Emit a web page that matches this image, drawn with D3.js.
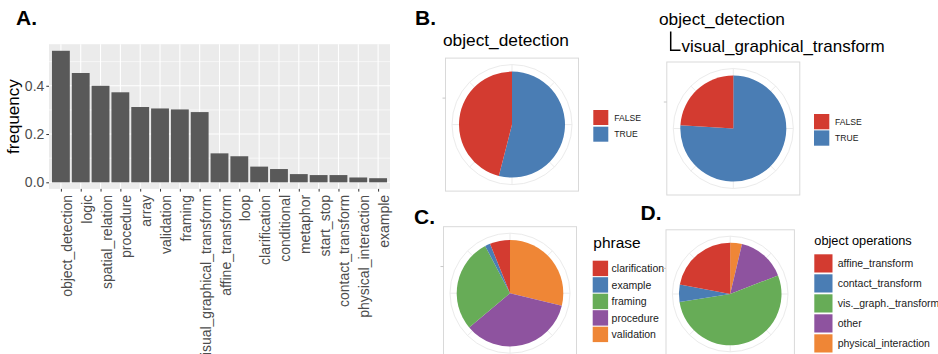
<!DOCTYPE html>
<meta charset="utf-8">
<style>
  body { margin: 0; background: #fff; }
  svg { display: block; font-family: "Liberation Sans", Arial, sans-serif; }
  .letter { font-size: 21px; font-weight: bold; fill: #000; }
  .axis text { fill: #4d4d4d; font-size: 14px; }
  .axis line { stroke: #333; }
  .axis .domain { display: none; }
</style>
<svg width="938" height="354"></svg>
<script src="https://d3js.org/d3.v7.min.js"></script>
<script>

// A. frequency of each tag
var categories = ["object_detection", "logic", "spatial_relation", "procedure", "array",
  "validation", "framing", "visual_graphical_transform", "affine_transform", "loop",
  "clarification", "conditional", "metaphor", "start_stop", "contact_transform",
  "physical_interaction", "example"];
var frequency = [0.545, 0.453, 0.400, 0.373, 0.312, 0.306, 0.302, 0.291, 0.120, 0.108,
  0.065, 0.055, 0.034, 0.030, 0.030, 0.020, 0.017];
var yTicks = [0.0, 0.2, 0.4];
var yMinor = [0.1, 0.3, 0.5];

// B. TRUE / FALSE shares
var tfLevels = ["FALSE", "TRUE"];
var odValues = [0.46, 0.54];
var odVgtValues = [0.24, 0.76];

// C. phrase shares
var phraseLevels = ["clarification", "example", "framing", "procedure", "validation"];
var phraseValues = [0.065, 0.017, 0.302, 0.373, 0.306];

// D. object operations shares
var opsLevels = ["affine_transform", "contact_transform", "vis._graph._transform", "other", "physical_interaction"];
var opsValues = [0.220, 0.055, 0.534, 0.154, 0.037];

var colors = ["#D33B30", "#4A7DB4", "#67AC57", "#8E539F", "#EF8636"];

var svg = d3.select("svg");
svg.append("rect").attr("width", 938).attr("height", 354).attr("fill", "#fff");

// ---------- A. bar chart ----------
var panel = {left: 49, right: 390, top: 44.2, bottom: 188.9};

var x = d3.scalePoint().domain(categories).range([panel.left, panel.right]).padding(0.6);
var y = d3.scaleLinear().domain([-0.0273, 0.5723]).range([panel.bottom, panel.top]);
var bw = x.step() * 0.9;

var gA = svg.append("g");
gA.append("rect")
    .attr("x", panel.left).attr("y", panel.top)
    .attr("width", panel.right - panel.left).attr("height", panel.bottom - panel.top)
    .attr("fill", "#ebebeb");

gA.selectAll(".minor").data(yMinor).enter().append("line")
    .attr("x1", panel.left).attr("x2", panel.right)
    .attr("y1", function(d) { return y(d); }).attr("y2", function(d) { return y(d); })
    .attr("stroke", "#fff").attr("stroke-width", 0.6);

gA.selectAll(".major").data(yTicks).enter().append("line")
    .attr("x1", panel.left).attr("x2", panel.right)
    .attr("y1", function(d) { return y(d); }).attr("y2", function(d) { return y(d); })
    .attr("stroke", "#fff").attr("stroke-width", 1.1);

gA.selectAll(".vgrid").data(categories).enter().append("line")
    .attr("x1", function(d) { return x(d); }).attr("x2", function(d) { return x(d); })
    .attr("y1", panel.top).attr("y2", panel.bottom)
    .attr("stroke", "#fff").attr("stroke-width", 1.1);

gA.selectAll(".bar").data(categories).enter().append("rect")
    .attr("x", function(d) { return x(d) - bw / 2; })
    .attr("width", bw)
    .attr("y", function(d, i) { return y(frequency[i]); })
    .attr("height", function(d, i) { return y(0) - y(frequency[i]); })
    .attr("fill", "#595959");

gA.append("g").attr("class", "axis")
    .attr("transform", "translate(" + panel.left + ",0)")
    .call(d3.axisLeft(y).tickValues(yTicks).tickSize(2.7).tickPadding(2).tickFormat(d3.format(".1f")));

gA.append("g").attr("class", "axis")
    .attr("transform", "translate(0," + panel.bottom + ")")
    .call(d3.axisBottom(x).tickSize(2.7))
  .selectAll("text")
    .attr("transform", "rotate(-90)")
    .attr("text-anchor", "end")
    .attr("x", -6).attr("y", 0).attr("dy", "0.75em");

gA.append("text")
    .attr("transform", "translate(19," + ((panel.top + panel.bottom) / 2) + ") rotate(-90)")
    .attr("text-anchor", "middle")
    .style("font-size", "17px")
    .text("frequency");

// ---------- pies ----------
function drawPie(cx, cy, half, r, ring, levels, values) {
  var g = svg.append("g").attr("transform", "translate(" + cx + "," + cy + ")");
  g.append("rect")
      .attr("x", -half).attr("y", -half).attr("width", 2 * half).attr("height", 2 * half)
      .attr("fill", "none").attr("stroke", "#d9d9d9").attr("stroke-width", 1);
  g.selectAll(".spoke").data(d3.range(8)).enter().append("line")
      .attr("x2", function(i) { return ring * Math.sin(i * Math.PI / 4); })
      .attr("y2", function(i) { return -ring * Math.cos(i * Math.PI / 4); })
      .attr("stroke", "#ebebeb").attr("stroke-width", 1);
  g.append("circle").attr("r", ring)
      .attr("fill", "none").attr("stroke", "#ebebeb").attr("stroke-width", 1);
  g.append("line")
      .attr("x1", -half - 3).attr("x2", -half)
      .attr("y1", -r / 2).attr("y2", -r / 2)
      .attr("stroke", "#c8c8c8");

  // ggplot stacks the last level first, clockwise from 12 o'clock
  var slices = levels.map(function(l, i) { return {level: l, value: values[i], color: colors[i]}; }).reverse();
  var pie = d3.pie().sort(null).value(function(d) { return d.value; });
  var arc = d3.arc().innerRadius(0).outerRadius(r);
  g.selectAll(".slice").data(pie(slices)).enter().append("path")
      .attr("d", arc)
      .attr("fill", function(d) { return d.data.color; });
}

function drawLegend(lx, ly, step, size, gap, fontSize, levels) {
  var g = svg.append("g").attr("transform", "translate(" + lx + "," + ly + ")");
  var item = g.selectAll(".key").data(levels).enter().append("g")
      .attr("transform", function(d, i) { return "translate(0," + i * step + ")"; });
  item.append("rect")
      .attr("width", size).attr("height", size)
      .attr("fill", function(d, i) { return colors[i]; });
  item.append("text")
      .attr("x", size + gap).attr("y", size / 2)
      .attr("dy", "0.35em")
      .style("font-size", fontSize + "px")
      .attr("fill", "#1a1a1a")
      .text(function(d) { return d; });
}

// B.
drawPie(512, 124.6, 66.5, 53, 60, tfLevels, odValues);
drawLegend(593.3, 110, 16.7, 15, 6, 8.6, tfLevels);

drawPie(733.3, 128.5, 66.5, 53, 60, tfLevels, odVgtValues);
drawLegend(814, 114, 16.4, 15.3, 5.7, 8.6, tfLevels);

svg.append("text").attr("x", 443).attr("y", 45.5).style("font-size", "17.3px").text("object_detection");
svg.append("text").attr("x", 659).attr("y", 25).style("font-size", "17.3px").text("object_detection");
svg.append("path")
    .attr("d", "M670.7,31.5V50.2H680.5")
    .attr("fill", "none").attr("stroke", "#000").attr("stroke-width", 1.5);
svg.append("text").attr("x", 681.5).attr("y", 51.5).style("font-size", "17px").text("visual_graphical_transform");

// C.
drawPie(510, 293.2, 66.5, 53.3, 60, phraseLevels, phraseValues);
svg.append("text").attr("x", 593.3).attr("y", 248.3).style("font-size", "15.5px").text("phrase");
drawLegend(592.7, 260.7, 16.5, 15.4, 3.5, 10.5, phraseLevels);

// D.
drawPie(730.2, 294, 64.2, 51.3, 57.8, opsLevels, opsValues);
svg.append("text").attr("x", 814.3).attr("y", 245).style("font-size", "12.8px").text("object operations");
drawLegend(814.3, 254.3, 20, 18.2, 5.2, 10.5, opsLevels);

// panel letters
svg.append("text").attr("class", "letter").attr("x", 16).attr("y", 25).text("A.");
svg.append("text").attr("class", "letter").attr("x", 415).attr("y", 25).text("B.");
svg.append("text").attr("class", "letter").attr("x", 414).attr("y", 223.5).text("C.");
svg.append("text").attr("class", "letter").attr("x", 640.5).attr("y", 220).text("D.");

</script>
